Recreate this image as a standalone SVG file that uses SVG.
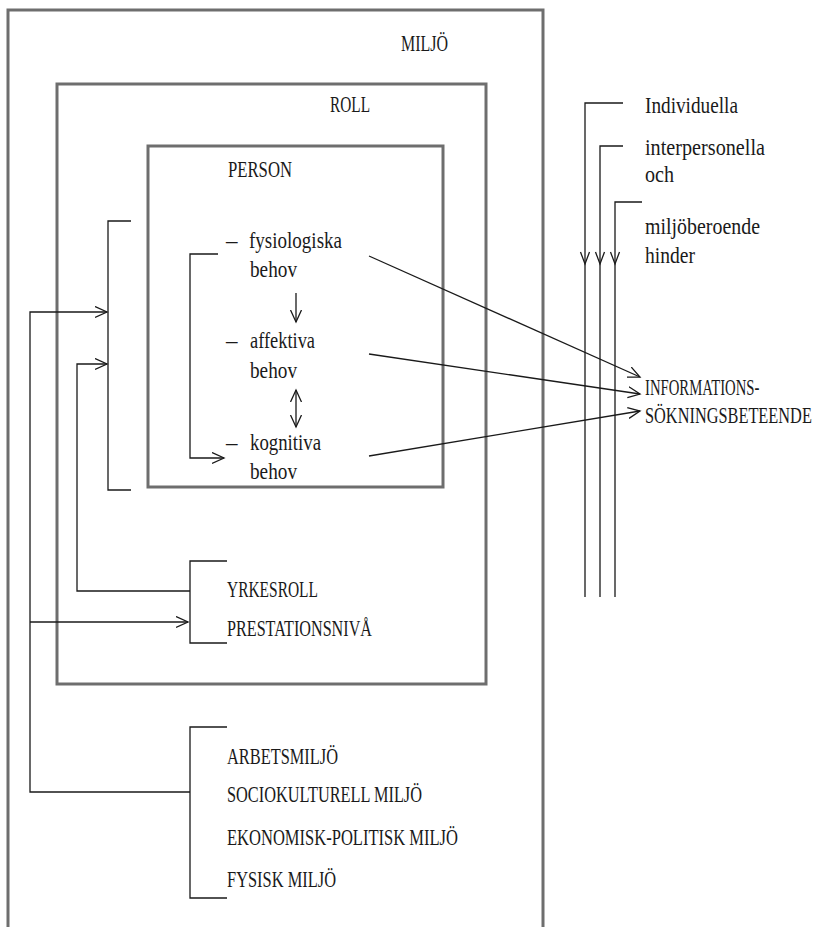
<svg xmlns="http://www.w3.org/2000/svg" width="817" height="927" viewBox="0 0 817 927">
<style>
.box{fill:none;stroke:#6e6e6e;stroke-width:3}
.ln{fill:none;stroke:#1a1a1a;stroke-width:1.3}
.t{font-family:"Liberation Serif","Times New Roman",serif;font-size:23px;fill:#1a1a1a}
</style>
<defs>
<marker id="ah" markerWidth="14" markerHeight="14" refX="12" refY="6" orient="auto-start-reverse" markerUnits="userSpaceOnUse">
<path d="M0,0.5 L12,6 L0,11.5" fill="none" stroke="#1a1a1a" stroke-width="1.3"/>
</marker>
</defs>
<rect width="817" height="927" fill="#ffffff"/>
<g id="miljo">
<path class="box" d="M8,927 V10 H543 V927"/>
<text class="t" x="401" y="51" textLength="47" lengthAdjust="spacingAndGlyphs">MILJÖ</text>
</g>
<g id="roll">
<rect class="box" x="57" y="84" width="429" height="600"/>
<text class="t" x="330" y="112" textLength="40" lengthAdjust="spacingAndGlyphs">ROLL</text>
</g>
<g id="person">
<rect class="box" x="148" y="146" width="295" height="341"/>
<text class="t" x="228" y="177" textLength="64" lengthAdjust="spacingAndGlyphs">PERSON</text>
</g>
<g id="fysiologiska">
<text class="t" x="226" y="248">–</text>
<text class="t" x="249" y="248" textLength="93" lengthAdjust="spacingAndGlyphs">fysiologiska</text>
<text class="t" x="250" y="277" textLength="47" lengthAdjust="spacingAndGlyphs">behov</text>
</g>
<g id="affektiva">
<text class="t" x="226" y="348">–</text>
<text class="t" x="250" y="348" textLength="65" lengthAdjust="spacingAndGlyphs">affektiva</text>
<text class="t" x="250" y="378" textLength="47" lengthAdjust="spacingAndGlyphs">behov</text>
</g>
<g id="kognitiva">
<text class="t" x="226" y="450">–</text>
<text class="t" x="250" y="450" textLength="71" lengthAdjust="spacingAndGlyphs">kognitiva</text>
<text class="t" x="250" y="479" textLength="47" lengthAdjust="spacingAndGlyphs">behov</text>
</g>
<g id="yrkes">
<text class="t" x="227" y="597" textLength="91" lengthAdjust="spacingAndGlyphs">YRKESROLL</text>
<text class="t" x="227" y="636" textLength="145" lengthAdjust="spacingAndGlyphs">PRESTATIONSNIVÅ</text>
</g>
<g id="miljotyper">
<text class="t" x="227" y="764" textLength="111" lengthAdjust="spacingAndGlyphs">ARBETSMILJÖ</text>
<text class="t" x="227" y="802" textLength="195" lengthAdjust="spacingAndGlyphs">SOCIOKULTURELL MILJÖ</text>
<text class="t" x="227" y="845" textLength="231" lengthAdjust="spacingAndGlyphs">EKONOMISK-POLITISK MILJÖ</text>
<text class="t" x="227" y="887" textLength="109" lengthAdjust="spacingAndGlyphs">FYSISK MILJÖ</text>
</g>
<g id="hinder">
<text class="t" x="645" y="113" textLength="93" lengthAdjust="spacingAndGlyphs">Individuella</text>
<text class="t" x="645" y="155" textLength="120" lengthAdjust="spacingAndGlyphs">interpersonella</text>
<text class="t" x="645" y="182" textLength="29" lengthAdjust="spacingAndGlyphs">och</text>
<text class="t" x="645" y="234" textLength="115" lengthAdjust="spacingAndGlyphs">miljöberoende</text>
<text class="t" x="645" y="263" textLength="50" lengthAdjust="spacingAndGlyphs">hinder</text>
</g>
<g id="informationssokning">
<text class="t" transform="translate(645,395) scale(0.64,1)">INFORMATIONS-</text>
<text class="t" transform="translate(645,423) scale(0.71,1)">SÖKNINGSBETEENDE</text>
</g>
<g id="connectors">
<path class="ln" d="M131,221 H108 V490 H131"/>
<path class="ln" d="M218,254 H190 V458 H224" marker-end="url(#ah)"/>
<path class="ln" d="M227,561 H190 V643 H227"/>
<path class="ln" d="M227,727 H190 V898 H227"/>
<path class="ln" d="M190,792 H30 V312 H107" marker-end="url(#ah)"/>
<path class="ln" d="M30,622 H188" marker-end="url(#ah)"/>
<path class="ln" d="M190,591 H77 V364 H107" marker-end="url(#ah)"/>
<path class="ln" d="M296,293 V322" marker-end="url(#ah)"/>
<path class="ln" d="M296,390 V427" marker-start="url(#ah)" marker-end="url(#ah)"/>
<path class="ln" d="M369,256 L640,377" marker-end="url(#ah)"/>
<path class="ln" d="M369,354 L640,394" marker-end="url(#ah)"/>
<path class="ln" d="M369,456 L640,411" marker-end="url(#ah)"/>
<path class="ln" d="M623,103 H585 V597"/>
<path class="ln" d="M623,146 H600 V597"/>
<path class="ln" d="M642,202 H615 V597"/>
<path class="ln" d="M580.5,252 L585,264 L589.5,252"/>
<path class="ln" d="M595.5,252 L600,264 L604.5,252"/>
<path class="ln" d="M610.5,252 L615,264 L619.5,252"/>
</g>
</svg>
